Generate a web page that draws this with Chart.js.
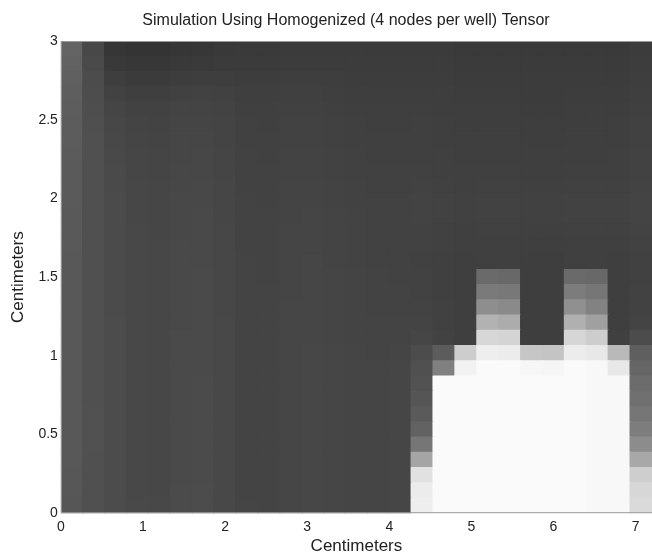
<!DOCTYPE html>
<html>
<head>
<meta charset="utf-8">
<script src="https://cdn.jsdelivr.net/npm/chart.js@4.4.1/dist/chart.umd.min.js"></script>
<style>
    html, body { margin: 0; padding: 0; background: #fff; }
    #wrap { width: 652px; height: 555px; position: relative; }
</style>
</head>
<body>
<div id="wrap"><canvas id="simChart"></canvas></div>
<script>
// ===============================
// DATA
// ===============================

const chartTitle = 'Simulation Using Homogenized (4 nodes per well) Tensor';
const xTicks = [0, 1, 2, 3, 4, 5, 6, 7];
const yTicks = [0, 0.5, 1, 1.5, 2, 2.5, 3];

// domain of the grid (cm)
const xMax = 7.2;
const yMax = 3;

// gray level of each cell (0 = black, 255 = white), 27 columns per row
// listed from the bottom row (y = 0) up to the top row (y = 3)
const grayRows = [
    [86, 80, 76, 73, 72, 75, 76, 72, 69, 68, 70, 71, 70, 69, 69, 70, 238, 250, 250, 250, 250, 250, 250, 250, 248, 248, 218],
    [87, 80, 76, 72, 71, 75, 76, 72, 68, 68, 70, 71, 70, 69, 69, 70, 236, 250, 250, 250, 250, 250, 250, 250, 248, 248, 215],
    [87, 80, 76, 72, 71, 74, 75, 72, 68, 68, 70, 71, 70, 69, 69, 70, 225, 250, 250, 250, 250, 250, 250, 250, 248, 248, 206],
    [88, 80, 76, 72, 71, 74, 75, 72, 68, 68, 70, 71, 70, 69, 69, 70, 165, 250, 250, 250, 250, 250, 250, 250, 248, 248, 168],
    [88, 81, 76, 72, 71, 74, 75, 72, 68, 68, 70, 71, 70, 69, 69, 70, 118, 250, 250, 250, 250, 250, 250, 250, 248, 248, 140],
    [88, 81, 76, 72, 71, 74, 75, 72, 68, 68, 70, 71, 70, 69, 69, 70, 98, 250, 250, 250, 250, 250, 250, 250, 248, 248, 125],
    [88, 81, 76, 72, 71, 74, 75, 72, 68, 68, 70, 71, 70, 69, 69, 70, 90, 250, 250, 250, 250, 250, 250, 250, 248, 248, 118],
    [88, 80, 76, 72, 71, 74, 75, 72, 68, 68, 70, 71, 70, 69, 69, 70, 85, 250, 250, 250, 250, 250, 250, 250, 248, 248, 112],
    [88, 80, 76, 72, 71, 74, 75, 72, 68, 68, 70, 71, 70, 69, 69, 70, 82, 250, 250, 250, 250, 250, 250, 250, 248, 248, 108],
    [88, 80, 76, 72, 71, 74, 74, 72, 68, 68, 70, 71, 70, 69, 69, 70, 80, 128, 242, 250, 250, 246, 245, 250, 248, 232, 102],
    [88, 80, 76, 72, 71, 74, 74, 72, 68, 68, 70, 71, 70, 69, 68, 69, 76, 92, 205, 238, 236, 198, 196, 236, 232, 185, 95],
    [88, 80, 76, 72, 71, 74, 74, 72, 68, 68, 70, 70, 69, 68, 68, 68, 70, 66, 63, 215, 212, 62, 62, 214, 205, 64, 76],
    [88, 80, 76, 72, 71, 73, 74, 72, 68, 68, 70, 70, 69, 68, 68, 68, 68, 65, 63, 178, 172, 62, 62, 176, 160, 63, 68],
    [88, 80, 75, 72, 71, 73, 74, 71, 68, 68, 70, 70, 69, 68, 67, 67, 67, 65, 63, 142, 138, 62, 62, 144, 130, 63, 66],
    [88, 80, 75, 72, 71, 73, 74, 71, 68, 68, 69, 70, 69, 68, 67, 67, 66, 64, 63, 122, 120, 62, 62, 124, 118, 63, 66],
    [88, 80, 75, 72, 71, 73, 74, 71, 68, 67, 69, 70, 69, 68, 67, 66, 66, 64, 63, 106, 104, 62, 62, 106, 104, 63, 65],
    [88, 80, 75, 72, 71, 73, 73, 71, 68, 67, 69, 70, 68, 67, 66, 66, 65, 64, 63, 64, 64, 62, 62, 64, 64, 63, 65],
    [89, 80, 75, 72, 71, 73, 73, 71, 67, 67, 69, 69, 68, 67, 66, 66, 66, 65, 64, 64, 64, 63, 63, 64, 64, 64, 66],
    [89, 80, 75, 72, 70, 72, 73, 71, 67, 67, 69, 69, 68, 67, 66, 66, 66, 65, 64, 65, 65, 64, 64, 65, 65, 65, 67],
    [89, 80, 75, 71, 70, 72, 73, 70, 67, 67, 68, 69, 68, 67, 66, 66, 67, 66, 65, 66, 66, 65, 65, 66, 66, 66, 68],
    [90, 80, 75, 71, 70, 72, 72, 70, 67, 66, 68, 68, 67, 66, 66, 66, 67, 66, 65, 66, 66, 65, 65, 66, 66, 66, 68],
    [90, 80, 74, 71, 70, 71, 72, 70, 66, 66, 68, 68, 67, 66, 65, 65, 66, 65, 64, 65, 65, 64, 64, 65, 65, 65, 67],
    [90, 80, 74, 70, 69, 71, 71, 69, 66, 66, 67, 67, 66, 65, 65, 65, 65, 64, 64, 64, 64, 63, 63, 64, 64, 64, 66],
    [91, 80, 73, 70, 69, 70, 71, 69, 66, 65, 67, 67, 66, 65, 64, 64, 64, 64, 63, 63, 63, 63, 63, 63, 63, 64, 66],
    [92, 80, 72, 69, 68, 70, 70, 68, 65, 65, 66, 66, 65, 64, 64, 64, 64, 63, 63, 63, 63, 62, 62, 63, 63, 63, 65],
    [92, 79, 71, 68, 67, 69, 69, 68, 65, 64, 66, 66, 65, 64, 63, 63, 64, 63, 62, 62, 62, 62, 62, 62, 62, 63, 65],
    [93, 78, 69, 66, 66, 68, 68, 67, 64, 64, 65, 65, 64, 63, 63, 63, 63, 62, 62, 62, 62, 61, 61, 62, 62, 62, 64],
    [94, 77, 66, 63, 63, 65, 66, 65, 63, 63, 64, 64, 63, 62, 62, 62, 62, 62, 61, 61, 61, 60, 60, 61, 61, 61, 63],
    [96, 76, 62, 59, 59, 61, 62, 62, 61, 61, 62, 62, 62, 61, 61, 61, 61, 61, 60, 60, 60, 60, 60, 60, 60, 60, 62],
    [98, 74, 57, 55, 55, 57, 58, 59, 59, 59, 60, 60, 60, 60, 60, 60, 60, 60, 59, 59, 59, 59, 59, 59, 59, 59, 61],
    [100, 72, 54, 52, 52, 54, 55, 57, 58, 58, 59, 59, 59, 59, 59, 59, 59, 59, 58, 58, 58, 58, 58, 58, 58, 58, 60]
];

// ===============================
// BUILD THE GRID AS STACKED BARS
// ===============================

const colCount = grayRows[0].length;
const cellW = xMax / colCount;
const cellH = yMax / grayRows.length;
const colCenters = grayRows[0].map((g, i) => (i + 0.5) * cellW);

const cellDatasets = grayRows.map(row => ({
    data: colCenters.map(x => ({ x: x, y: cellH })),
    backgroundColor: row.map(g => `rgb(${g},${g},${g})`),
    borderWidth: 0,
    inflateAmount: 0.6,
    barPercentage: 1,
    categoryPercentage: 1
}));

const fontFamily = '"Liberation Sans", Arial, Helvetica, sans-serif';

// title centred a little left of the axes centre, like the figure
const figureTitle = {
    id: 'figureTitle',
    afterDraw(chart) {
        const ctx = chart.ctx;
        ctx.save();
        ctx.font = '16px ' + fontFamily;
        ctx.fillStyle = '#222';
        ctx.textAlign = 'center';
        ctx.textBaseline = 'middle';
        ctx.fillText(chartTitle, 346, 21);
        ctx.restore();
    }
};

// thin frame round the axes
const axesFrame = {
    id: 'axesFrame',
    afterDatasetsDraw(chart) {
        const a = chart.chartArea;
        const ctx = chart.ctx;
        ctx.save();
        ctx.strokeStyle = '#9a9a9a';
        ctx.lineWidth = 1;
        ctx.strokeRect(a.left + 0.5, a.top + 0.5, a.right - a.left, a.bottom - a.top - 1);
        ctx.restore();
    }
};

const simCtx = document.getElementById('simChart');

new Chart(simCtx, {
    type: 'bar',
    data: { datasets: cellDatasets },
    plugins: [figureTitle, axesFrame],
    options: {
        responsive: true,
        maintainAspectRatio: false,
        animation: false,
        events: [],
        layout: {
            padding: { top: 41, right: 0, left: 8, bottom: 0 }
        },
        plugins: {
            legend: { display: false },
            tooltip: { enabled: false },
            title: { display: false }
        },
        scales: {
            x: {
                type: 'linear',
                stacked: true,
                offset: false,
                min: 0,
                max: xMax,
                afterBuildTicks: axis => {
                    axis.ticks = xTicks.map(v => ({ value: v }));
                },
                grid: { display: false, drawTicks: false, tickLength: 0 },
                border: { display: false },
                ticks: {
                    padding: 6,
                    color: '#222',
                    callback: v => String(v),
                    font: { family: fontFamily, size: 14 }
                },
                title: {
                    display: true,
                    text: 'Centimeters',
                    color: '#222',
                    padding: { top: -4, bottom: 0 },
                    font: { family: fontFamily, size: 17, lineHeight: 1 }
                }
            },
            y: {
                type: 'linear',
                stacked: true,
                min: 0,
                max: yMax,
                afterBuildTicks: axis => {
                    axis.ticks = yTicks.map(v => ({ value: v }));
                },
                grid: { display: false, drawTicks: false, tickLength: 0 },
                border: { display: false },
                ticks: {
                    padding: 3,
                    color: '#222',
                    callback: v => String(v),
                    font: { family: fontFamily, size: 14 }
                },
                title: {
                    display: true,
                    text: 'Centimeters',
                    color: '#222',
                    padding: { top: 0, bottom: 7 },
                    font: { family: fontFamily, size: 17 }
                }
            }
        }
    }
});
</script>
</body>
</html>
